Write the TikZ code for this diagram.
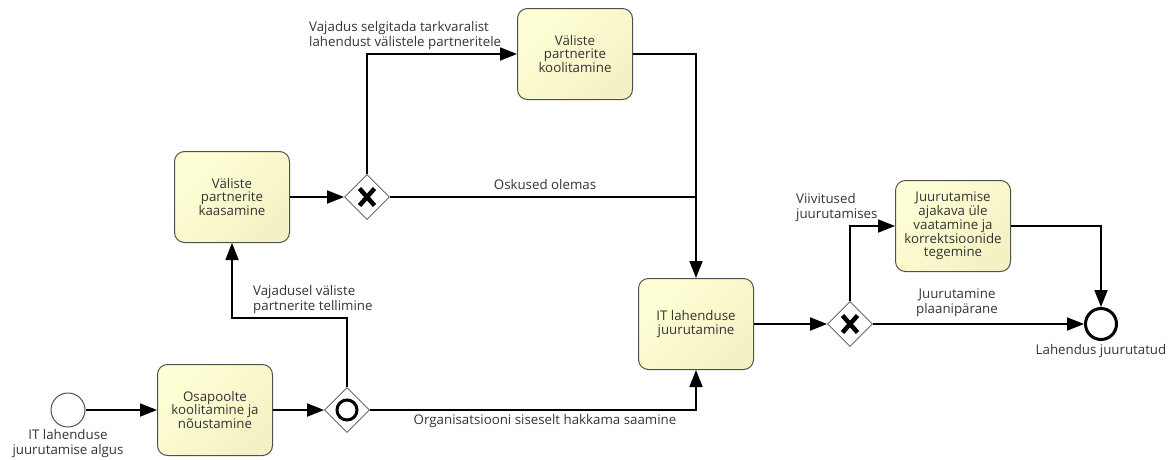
\documentclass[tikz,border=0pt]{standalone}
\usepackage{fontspec}
\setmainfont{Open Sans}
\usetikzlibrary{arrows.meta,shapes.geometric,calc}
\definecolor{taskfill}{HTML}{FFFFD6}
\definecolor{taskfilldark}{HTML}{F4F2C4}
\definecolor{taskborder}{HTML}{505050}
\definecolor{txt}{HTML}{333333}
\begin{document}
\begin{tikzpicture}[x=1pt,y=-1pt,
  font=\fontsize{13.3}{14.8}\selectfont, text=txt,
  task/.style={draw=taskborder, line width=1pt, rounded corners=10pt,
    minimum width=115pt, minimum height=91pt, align=center,
    font=\fontsize{13.3}{13.8}\selectfont,
    top color=taskfill, bottom color=taskfilldark, shading angle=45},
  gw/.style={diamond, draw=taskborder, line width=0.8pt, fill=white,
    minimum width=45pt, minimum height=45pt, inner sep=0pt},
  flow/.style={line width=1.8pt, -{Triangle[length=17pt,width=13pt]}},
  plainflow/.style={line width=1.8pt},
  lbl/.style={align=center, inner sep=0pt},
  lbll/.style={align=left, inner sep=0pt}]
\useasboundingbox (0,0) rectangle (1173,459);

% events
\node[circle, draw=taskborder, line width=1pt, minimum size=34pt, inner sep=0pt] (start) at (68,410) {};
\node[lbl, anchor=north] (startlbl) at (68,429) {IT lahenduse\\juurutamise algus};
\node[circle, draw=black, line width=3pt, minimum size=31pt, inner sep=0pt] (end) at (1101,324) {};
\node[lbl, anchor=north] (endlbl) at (1101,344) {Lahendus juurutatud};

% tasks
\node[task] (t1) at (215,410) {Osapoolte\\koolitamine ja\\nõustamine};
\node[task] (t2) at (232,197) {Väliste\\partnerite\\kaasamine};
\node[task] (t3) at (575,54) {Väliste\\partnerite\\koolitamine};
\node[task] (t4) at (696,324) {IT lahenduse\\juurutamine};
\node[task] (t5) at (953,226) {Juurutamise\\ajakava üle\\vaatamine ja\\korrektsioonide\\tegemine};

% gateways
\node[gw] (g1) at (347,410) {};
\draw[line width=3pt] (g1.center) circle (10pt);
\node[gw] (g2) at (367,197) {};
\node[gw] (g3) at (850,324) {};
\foreach \g in {g2,g3}{
  \draw[line width=4.5pt] ($(\g.center)+(-7.5,-8.5)$) -- ($(\g.center)+(7.5,8.5)$);
  \draw[line width=4.5pt] ($(\g.center)+(7.5,-8.5)$) -- ($(\g.center)+(-7.5,8.5)$);
}

% sequence flows
\draw[flow] (start) -- (t1);
\draw[flow] (t1) -- (g1);
\draw[flow] (g1.north) -- (347,318) -| (t2.south);
\draw[flow] (t2) -- (g2);
\draw[flow] (g2.north) |- (t3.west);
\draw[flow] (t3.east) -| (t4.north);
\draw[plainflow] (g2.east) -- (t4.north |- g2.east);
\draw[flow] (g1.east) -| (t4.south);
\draw[flow] (t4) -- (g3);
\draw[flow] (g3.north) |- (t5.west);
\draw[flow] (t5.east) -| (end.north);
\draw[flow] (g3.east) -- (end.west);

% flow labels
\node[lbll, anchor=north west] (l1) at (253,285) {Vajadusel väliste\\partnerite tellimine};
\node[lbll, anchor=north west] (l2) at (309,21) {Vajadus selgitada tarkvaralist\\lahendust välistele partneritele};
\node[lbl] (l3) at (545,185) {Oskused olemas};
\node[lbl] (l4) at (545,421) {Organisatsiooni siseselt hakkama saamine};
\node[lbll, anchor=north west] (l5) at (796,193) {Viivitused\\juurutamises};
\node[lbl] (l6) at (957,303) {Juurutamine\\plaanipärane};
\end{tikzpicture}
\end{document}
